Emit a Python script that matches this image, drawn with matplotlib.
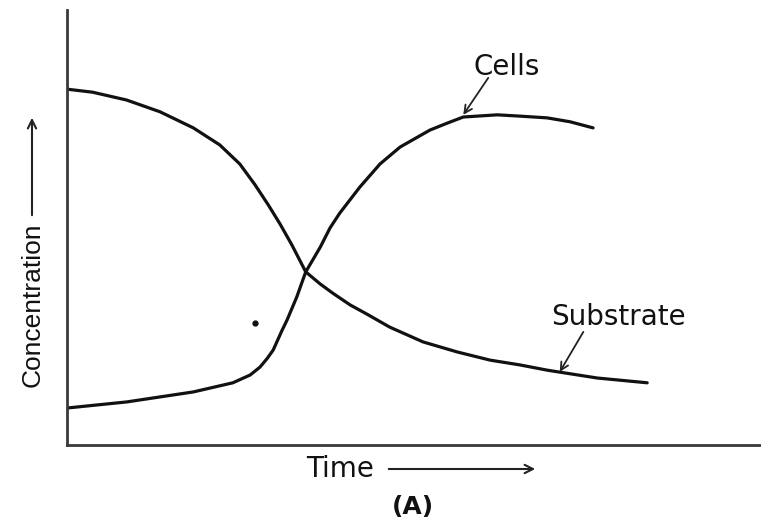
import matplotlib
matplotlib.use("Agg")
import matplotlib.pyplot as plt

W, H = 761, 522

# Data (arbitrary concentration / time units, 0-100 scale)
substrate_t = [0.0, 3.7, 8.6, 13.4, 18.2, 22.0, 24.9, 27.1, 29.0, 30.7, 32.4,
               34.4, 36.5, 38.3, 40.8, 43.2, 46.5, 51.3, 56.2, 61.0, 65.3,
               69.2, 76.4, 83.6]
substrate_c = [81.8, 81.1, 79.3, 76.6, 72.9, 69.0, 64.6, 59.8, 55.2, 50.8, 46.0,
               39.8, 37.0, 34.9, 32.2, 30.1, 27.1, 23.7, 21.4, 19.5, 18.4,
               17.2, 15.4, 14.3]

cells_t = [0.0, 8.6, 18.2, 23.9, 26.4, 27.8, 28.8, 29.7, 31.0, 31.7, 33.1,
           34.4, 36.5, 37.9, 39.3, 42.2, 45.1, 48.0, 52.3, 54.8, 57.1, 62.0,
           65.3, 69.2, 72.5, 75.8]
cells_c = [8.5, 9.9, 12.2, 14.3, 16.1, 17.9, 19.8, 21.8, 26.4, 28.7, 34.0,
           39.8, 45.5, 49.9, 53.3, 59.3, 64.6, 68.5, 72.4, 74.0, 75.4, 75.9,
           75.6, 75.2, 74.3, 72.9]

dot_t = [27.1]
dot_c = [28.0]

# annotation anchor points (tip on curve, arrow start, label position)
cells_label = "Cells"
cells_tip = (57.1, 75.9)
cells_from = (60.7, 84.4)
cells_text = (63.3, 87.0)

substrate_label = "Substrate"
substrate_tip = (71.0, 16.8)
substrate_from = (74.4, 26.0)
substrate_text = (79.5, 29.4)

xlabel = "Time"
ylabel = "Concentration"
panel = "(A)"


def fr(x, y):
    """image pixel -> figure fraction"""
    return x / W, 1 - y / H


fig = plt.figure(figsize=(W / 100, H / 100), dpi=100)
left, right, top, bottom = 67, 761, 10, 445
ax = fig.add_axes([left / W, 1 - bottom / H, (right - left) / W, (bottom - top) / H])
ax.set_xlim(0, 100)
ax.set_ylim(0, 100)
for s in ("top", "right"):
    ax.spines[s].set_visible(False)
for s in ("left", "bottom"):
    ax.spines[s].set_linewidth(2.0)
    ax.spines[s].set_color("#3a3a3a")
ax.set_xticks([])
ax.set_yticks([])

ax.plot(substrate_t, substrate_c, color="#111111", lw=2.3,
        solid_joinstyle="round", solid_capstyle="round")
ax.plot(cells_t, cells_c, color="#111111", lw=2.3,
        solid_joinstyle="round", solid_capstyle="round")
ax.plot(dot_t, dot_c, "o", color="#111111", ms=3.5)

arrow_kw = dict(arrowstyle="->", color="#222222", lw=1.3,
                mutation_scale=14, shrinkA=0, shrinkB=0)
ax.annotate("", xy=cells_tip, xytext=cells_from, arrowprops=arrow_kw)
ax.text(*cells_text, cells_label, ha="center", va="center",
        fontsize=20, color="#111111", family="DejaVu Sans")
ax.annotate("", xy=substrate_tip, xytext=substrate_from, arrowprops=arrow_kw)
ax.text(*substrate_text, substrate_label, ha="center", va="center",
        fontsize=20, color="#111111", family="DejaVu Sans")

# axis labels with arrows
fig.text(*fr(340, 469), xlabel, ha="center", va="center", fontsize=20,
         color="#111111", family="DejaVu Sans")
fig.add_artist(matplotlib.patches.FancyArrowPatch(
    fr(386, 469), fr(538, 469), transform=fig.transFigure,
    arrowstyle="->", color="#222222", lw=1.5, mutation_scale=15))

fig.text(*fr(33, 305), ylabel, ha="center", va="center", fontsize=19,
         rotation=90, color="#111111", family="Liberation Sans")
fig.add_artist(matplotlib.patches.FancyArrowPatch(
    fr(32, 218), fr(32, 115), transform=fig.transFigure,
    arrowstyle="->", color="#222222", lw=1.5, mutation_scale=15))

fig.text(*fr(413, 507), panel, ha="center", va="center", fontsize=18,
         fontweight="bold", color="#111111", family="DejaVu Sans")

fig.savefig("out.png", dpi=100)
